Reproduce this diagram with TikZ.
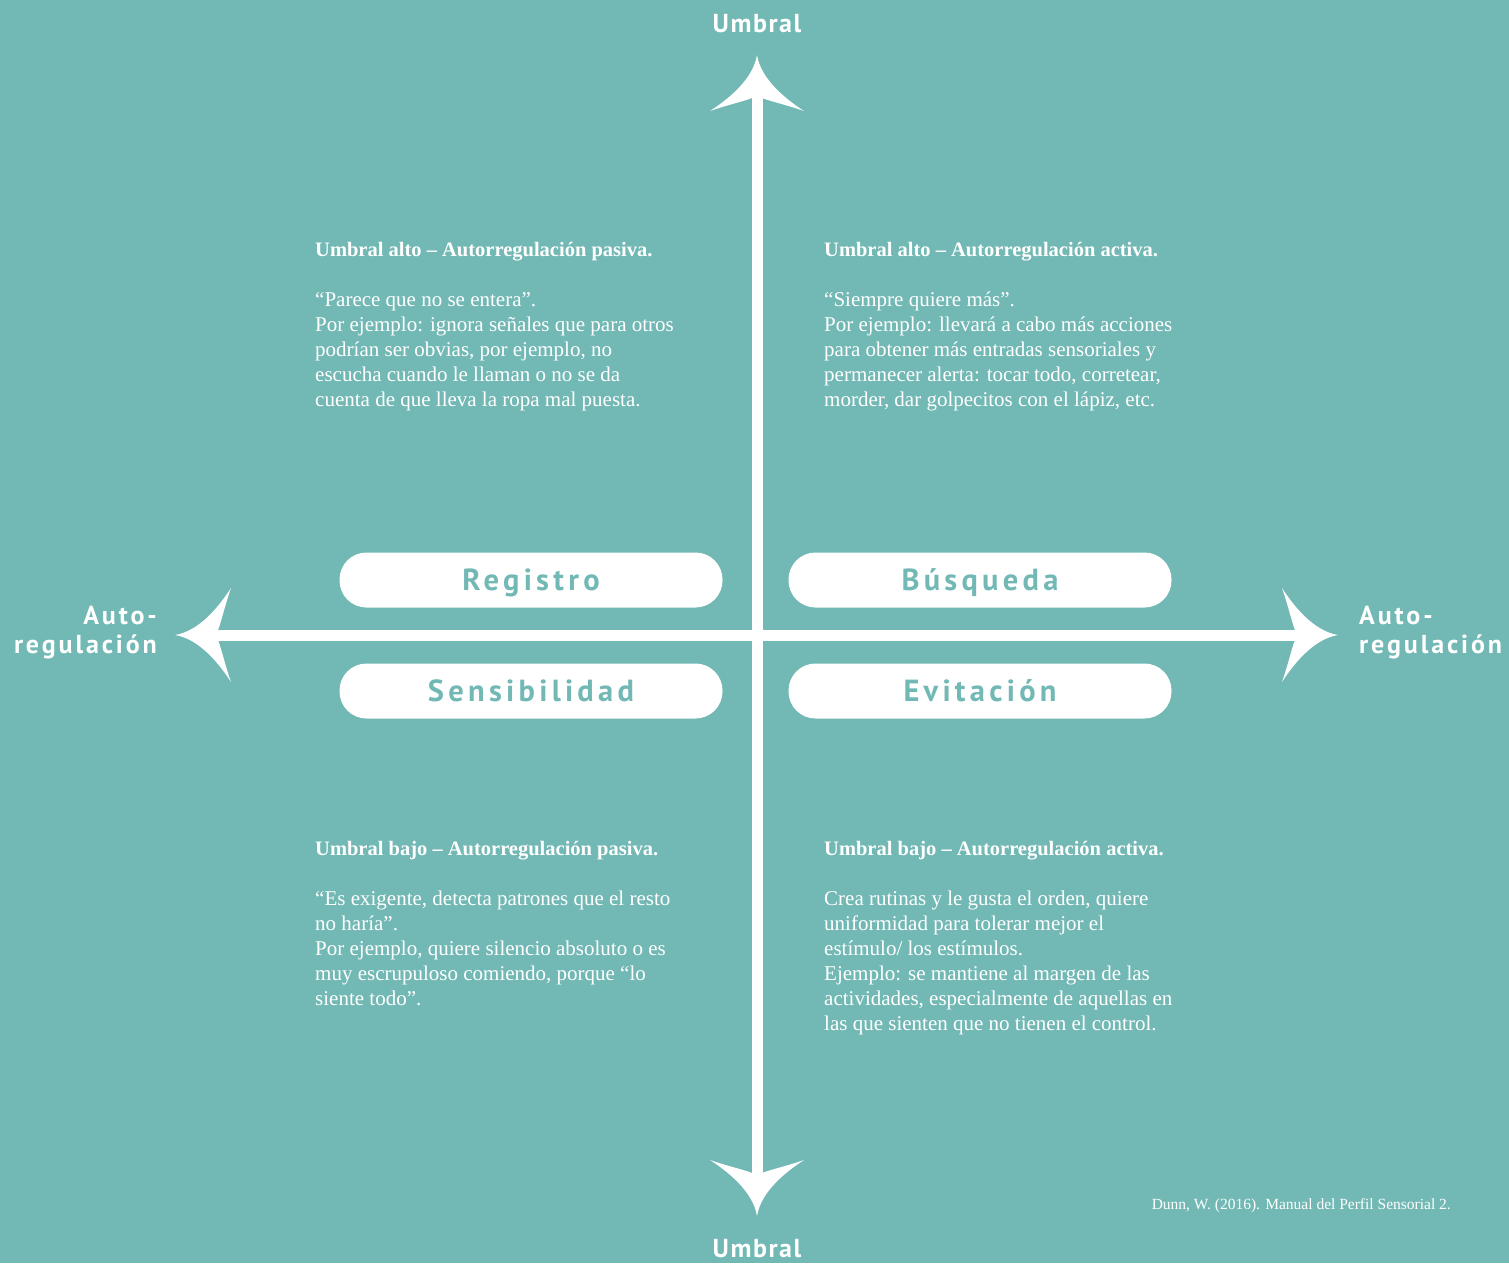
\documentclass[tikz,border=0pt]{standalone}
\usepackage{fontspec}
\setmainfont{Liberation Serif}
\newfontfamily\axisfont[LetterSpace=6]{PT Sans}
\newfontfamily\sidefont[LetterSpace=11]{PT Sans}
\newfontfamily\pillfont[LetterSpace=14]{PT Sans}
\newcommand\notehead{\bfseries\fontsize{20.5}{25}\selectfont}
\definecolor{sea}{RGB}{114,184,180}

\tikzset{
  pill/.style={fill=white, rounded corners=27pt, minimum width=383pt, minimum height=55pt,
    text height=21pt, text depth=0pt, text=sea, font=\pillfont\bfseries\fontsize{30.5}{30}\selectfont},
  axislabel/.style={text=white, inner sep=0pt, font=\axisfont\bfseries\fontsize{26}{29}\selectfont},
  sidelabel/.style={text=white, inner sep=0pt, font=\sidefont\bfseries\fontsize{26}{29}\selectfont},
  note/.style={text=white, align=left, anchor=base west, inner sep=0pt, font=\fontsize{21}{25}\selectfont},
  flare/.pic={
    \fill[white] (0,0) .. controls (-25,4) and (-45,30) .. (-56,47)
      .. controls (-50,30) and (-46,12) .. (-43,5) -- (-43,-5)
      .. controls (-46,-12) and (-50,-30) .. (-56,-47)
      .. controls (-45,-30) and (-25,-4) .. cycle;
  }
}

\begin{document}
\begin{tikzpicture}[x=1pt, y=-1pt]
  \fill[sea] (0,0) rectangle (1509,1263);
  \useasboundingbox (0,0) rectangle (1509,1263);

  % ends of the two axes
  \coordinate (N) at (757,55);
  \coordinate (S) at (757,1216);
  \coordinate (W) at (175,635);
  \coordinate (E) at (1338,635);

  \draw[white, line width=11pt] ([yshift=-30]N) -- ([yshift=30]S);
  \draw[white, line width=11pt] ([xshift=30]W) -- ([xshift=-30]E);
  \pic[rotate=90] at (N) {flare};
  \pic[rotate=-90] at (S) {flare};
  \pic[rotate=180] at (W) {flare};
  \pic at (E) {flare};

  % axis names
  \node[axislabel, anchor=base] (top) at (757,33) {Umbral};
  \node[axislabel, anchor=base] (bottom) at (757,1257) {Umbral};
  \node[sidelabel, align=right, anchor=east] (left) at (157,633) {Auto-\\regulación};
  \node[sidelabel, align=left, anchor=west] (right) at (1359,633) {Auto-\\regulación};

  % the four quadrants
  \node[pill] (registro) at (531,580) {Registro};
  \node[pill] (busqueda) at (980,580) {Búsqueda};
  \node[pill] (sensibilidad) at (531,691) {Sensibilidad};
  \node[pill] (evitacion) at (980,691) {Evitación};

  % notes, placed by the baseline of their last line
  \node[note] (altopasiva) at (315,406) {{\notehead Umbral alto – Autorregulación pasiva.}\\[25pt]
    “Parece que no se entera”.\\
    Por ejemplo: ignora señales que para otros\\
    podrían ser obvias, por ejemplo, no\\
    escucha cuando le llaman o no se da\\
    cuenta de que lleva la ropa mal puesta.};
  \node[note] (altoactiva) at (824,406) {{\notehead Umbral alto – Autorregulación activa.}\\[25pt]
    “Siempre quiere más”.\\
    Por ejemplo: llevará a cabo más acciones\\
    para obtener más entradas sensoriales y\\
    permanecer alerta: tocar todo, corretear,\\
    morder, dar golpecitos con el lápiz, etc.};
  \node[note] (bajopasiva) at (315,1005) {{\notehead Umbral bajo – Autorregulación pasiva.}\\[25pt]
    “Es exigente, detecta patrones que el resto\\
    no haría”.\\
    Por ejemplo, quiere silencio absoluto o es\\
    muy escrupuloso comiendo, porque “lo\\
    siente todo”.};
  \node[note] (bajoactiva) at (824,1030) {{\notehead Umbral bajo – Autorregulación activa.}\\[25pt]
    Crea rutinas y le gusta el orden, quiere\\
    uniformidad para tolerar mejor el\\
    estímulo/ los estímulos.\\
    Ejemplo: se mantiene al margen de las\\
    actividades, especialmente de aquellas en\\
    las que sienten que no tienen el control.};

  \node[text=white, inner sep=0pt, anchor=east, font=\fontsize{15.5}{18}\selectfont] (fuente) at (1451,1206)
    {Dunn, W. (2016). Manual del Perfil Sensorial 2.};
\end{tikzpicture}
\end{document}
